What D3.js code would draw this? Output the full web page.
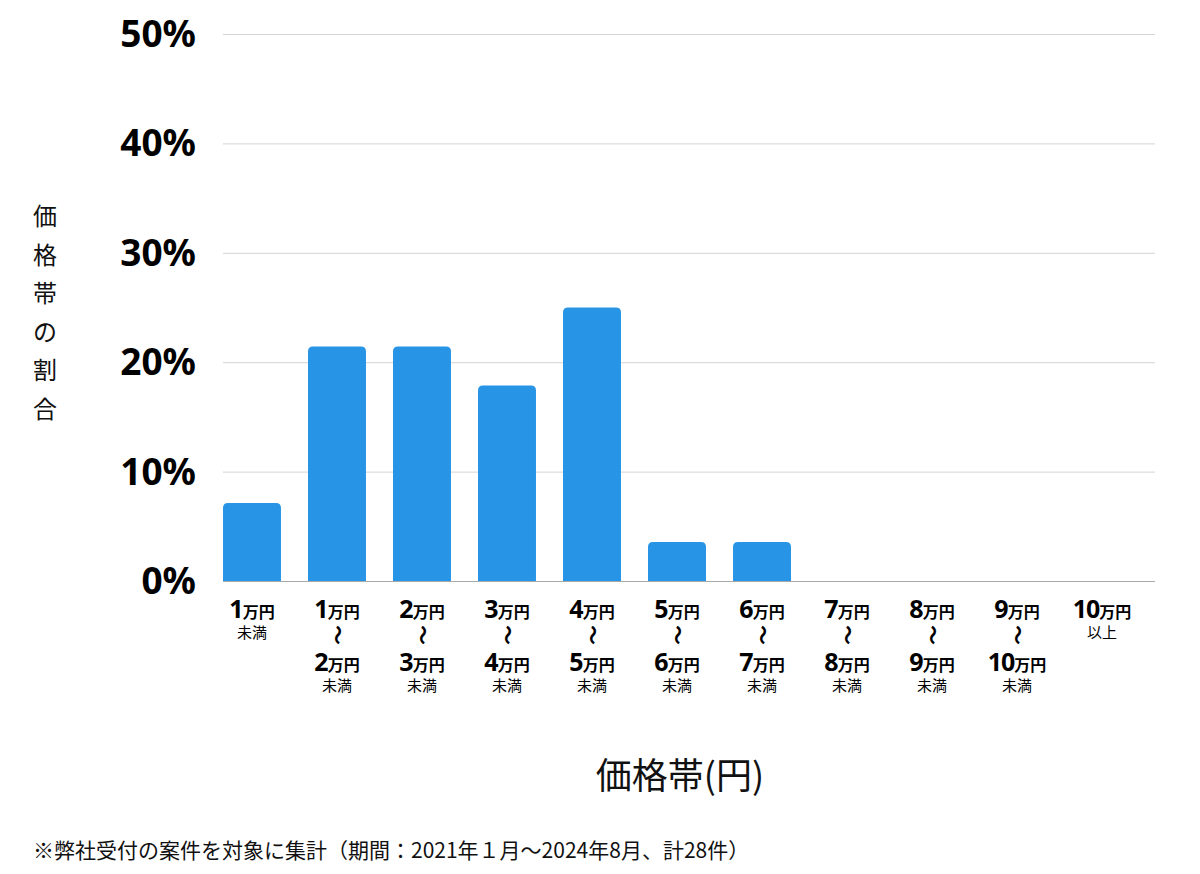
<!DOCTYPE html>
<html><head><meta charset="utf-8">
<script src="https://cdn.jsdelivr.net/npm/d3@7"></script>
<style>
body{margin:0;background:#fff;}
text{font-family:"Noto Sans CJK JP","Noto Sans",sans-serif;}
</style></head>
<body><svg id="c" width="1200" height="874"></svg>
<script>
const categories = ["1万円未満","1〜2万円未満","2〜3万円未満","3〜4万円未満","4〜5万円未満","5〜6万円未満","6〜7万円未満","7〜8万円未満","8〜9万円未満","9〜10万円未満","10万円以上"];
const labelFrom = ["1","1","2","3","4","5","6","7","8","9","10"];
const labelTo   = [null,"2","3","4","5","6","7","8","9","10",null];
const labelSuffix = ["未満","未満","未満","未満","未満","未満","未満","未満","未満","未満","以上"];
const values = [7.14, 21.43, 21.43, 17.86, 25.0, 3.57, 3.57, 0, 0, 0, 0];
const yTicks = [0,10,20,30,40,50];
const yTitle = "価格帯の割合";
const xTitle = "価格帯(円)";
const note = "※弊社受付の案件を対象に集計（期間：2021年１月〜2024年8月、計28件）";

const svg = d3.select("#c");
const x = d3.scaleBand().domain(categories).range([223,1131]).paddingInner(0.318).paddingOuter(0);
const y = d3.scaleLinear().domain([0,50]).range([581,34]);
const gridRight = 1155, gridLeft = 223;

// grid
svg.append("g").selectAll("line").data(yTicks).join("line")
  .attr("x1",gridLeft).attr("x2",gridRight)
  .attr("y1",d=>y(d)+0.5).attr("y2",d=>y(d)+0.5)
  .attr("stroke",d=>d===0?"#a8a8a8":"#d4d4d4").attr("stroke-width",1);

// y tick labels
svg.append("g").selectAll("text").data(yTicks).join("text")
  .attr("x",196).attr("y",d=>y(d)+13)
  .attr("text-anchor","end")
  .style("font-family","'Noto Sans','Noto Sans CJK JP',sans-serif")
  .style("font-weight","700").style("font-size","37px").attr("fill","#000")
  .text(d=>d+"%");

// bars with rounded top
const r = 5;
svg.append("g").selectAll("path").data(categories.map((c,i)=>({c,v:values[i]})).filter(d=>d.v>0)).join("path")
  .attr("fill","#2894e6")
  .attr("d",d=>{
    const x0=x(d.c), w=x.bandwidth(), y0=y(d.v), yb=y(0);
    return `M${x0},${yb}V${y0+r}Q${x0},${y0} ${x0+r},${y0}H${x0+w-r}Q${x0+w},${y0} ${x0+w},${y0+r}V${yb}Z`;
  });

// x labels
const lg = svg.append("g");
categories.forEach((c,i)=>{
  const cx = x(c)+x.bandwidth()/2;
  const g = lg.append("g").attr("transform",`translate(${cx},0)`);
  function amount(yb, num){
    const t = g.append("text").attr("y",yb).attr("text-anchor","middle").attr("fill","#000").style("font-weight","700");
    t.append("tspan").style("font-size","25px").style("font-family","'Noto Sans',sans-serif").style("letter-spacing","-1px").text(num);
    t.append("tspan").style("font-size","16px").text("万円");
  }
  amount(618, labelFrom[i]);
  if(labelTo[i]===null){
    g.append("text").attr("y",638).attr("text-anchor","middle").style("font-size","15px").attr("fill","#000").text(labelSuffix[i]);
  } else {
    g.append("text").attr("transform","translate(0,635) rotate(90)").attr("text-anchor","middle").attr("dy","0.35em")
      .style("font-size","20px").style("font-weight","700").attr("fill","#000").text("〜");
    amount(671, labelTo[i]);
    g.append("text").attr("y",691).attr("text-anchor","middle").style("font-size","15px").attr("fill","#000").text(labelSuffix[i]);
  }
});

// y title (vertical stacked)
svg.append("g").selectAll("text").data(yTitle.split("")).join("text")
  .attr("x",45).attr("y",(d,i)=>225+i*38.5)
  .attr("text-anchor","middle").style("font-size","24px").attr("fill","#111").text(d=>d);

// x title
svg.append("text").attr("x",680).attr("y",789).attr("text-anchor","middle")
  .style("font-size","36px").attr("fill","#111").text(xTitle);

// note
svg.append("text").attr("x",33).attr("y",858).style("font-size","21px").attr("fill","#111").text(note);
</script></body></html>
